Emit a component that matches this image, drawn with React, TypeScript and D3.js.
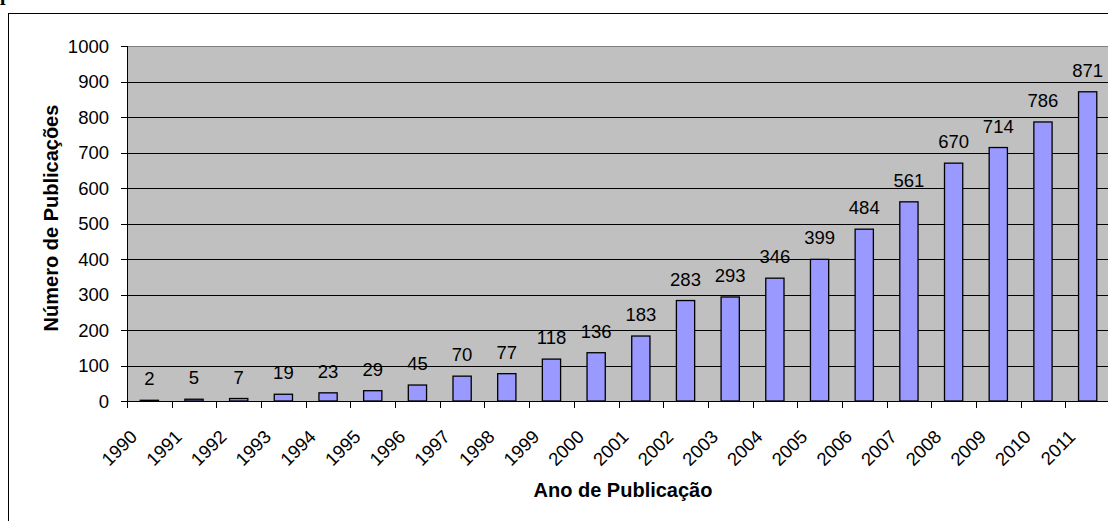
import React from "react";
import * as d3 from "d3";

const years = ["1990","1991","1992","1993","1994","1995","1996","1997","1998","1999","2000","2001","2002","2003","2004","2005","2006","2007","2008","2009","2010","2011"];
const publications = [2,5,7,19,23,29,45,70,77,118,136,183,283,293,346,399,484,561,670,714,786,871];
const yTicks = [0,100,200,300,400,500,600,700,800,900,1000];

const W = 1108, H = 521;
const FONT = "'Liberation Sans', Arial, Helvetica, sans-serif";

export default function App() {
  const left = 127, right = 1110, top = 46, bottom = 401;
  const x = d3.scaleBand<string>().domain(years).range([left, right]).paddingInner(0).paddingOuter(0);
  const y = d3.scaleLinear().domain([0, 1000]).range([bottom, top]);
  const bw = x.bandwidth() / 2.45;

  return (
    <svg width={W} height={H} style={{ position: "absolute", left: 0, top: 0 }} fontFamily={FONT}>
      <rect x={0} y={0} width={W} height={H} fill="#fff" />
      <text x={0} y={0} fontFamily="'Liberation Serif', 'Times New Roman', serif" fontWeight="bold" fontSize={20} fill="#000">p</text>
      <rect x={8.5} y={13.5} width={W + 20} height={H + 20} fill="none" stroke="#000" strokeWidth={1} />
      {/* plot area */}
      <rect x={left} y={top} width={right - left} height={bottom - top} fill="#c0c0c0" />
      {yTicks.map((t) => (
        <line key={"g" + t} x1={left} x2={right} y1={Math.round(y(t)) + 0.5} y2={Math.round(y(t)) + 0.5}
          stroke={t === 1000 ? "#808080" : "#000"} strokeWidth={1} />
      ))}
      {/* bars */}
      {years.map((yr, i) => {
        const cx = x(yr)! + x.bandwidth() / 2;
        const v = publications[i];
        const yt = y(v);
        return (
          <g key={yr}>
            <rect x={cx - bw / 2} y={yt} width={bw} height={bottom - yt} fill="#9999ff" stroke="#000" strokeWidth={1.3} />
            <text x={cx} y={yt - 15} textAnchor="middle" fontSize={18.5} fill="#000">{v}</text>
          </g>
        );
      })}
      {/* y axis */}
      <line x1={left + 0.5} x2={left + 0.5} y1={top} y2={bottom} stroke="#000" />
      {yTicks.map((t) => (
        <g key={"y" + t}>
          <line x1={left - 6} x2={left} y1={Math.round(y(t)) + 0.5} y2={Math.round(y(t)) + 0.5} stroke="#000" />
          <text x={109} y={y(t)} dy="0.36em" textAnchor="end" fontSize={18.5} fill="#000">{t}</text>
        </g>
      ))}
      {/* x axis */}
      <line x1={left} x2={right} y1={bottom + 0.5} y2={bottom + 0.5} stroke="#000" />
      {years.map((yr) => {
        const bx = Math.round(x(yr)!) + 0.5;
        return <line key={"xt" + yr} x1={bx} x2={bx} y1={bottom} y2={bottom + 7} stroke="#000" />;
      })}
      {years.map((yr) => {
        const cx = x(yr)! + x.bandwidth() / 2;
        const ax = cx - 11, ay = 438;
        return (
          <text key={"xl" + yr} x={ax} y={ay} textAnchor="end" fontSize={18.5} fill="#000"
            transform={`rotate(-45, ${ax}, ${ay})`}>{yr}</text>
        );
      })}
      {/* titles */}
      <text x={623} y={497} textAnchor="middle" fontSize={20} fontWeight="bold" fill="#000">Ano de Publicação</text>
      <text transform={`translate(57.5, 218) rotate(-90)`} textAnchor="middle" fontSize={20} fontWeight="bold" fill="#000">Número de Publicações</text>
    </svg>
  );
}
